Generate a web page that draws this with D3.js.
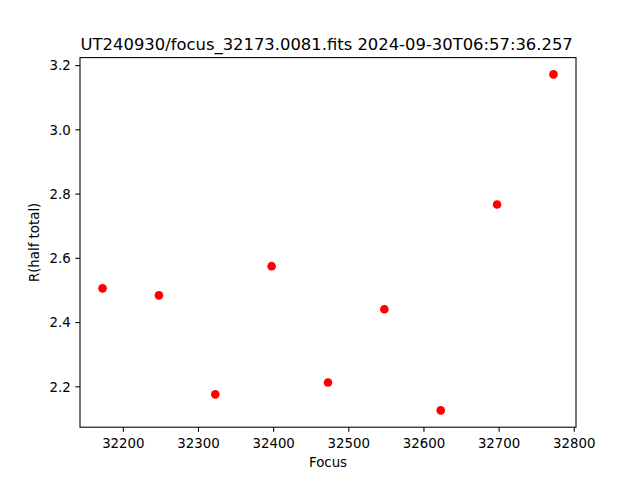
<!DOCTYPE html>
<html>
<head>
<meta charset="utf-8">
<script src="https://cdn.jsdelivr.net/npm/d3@7"></script>
<style>
html,body{margin:0;padding:0;background:#fff;}
svg{display:block;font-family:"DejaVu Sans",sans-serif;}
</style>
</head>
<body>
<svg id="chart" width="640" height="480"></svg>
<script>
const titleText = "UT240930/focus_32173.0081.fits 2024-09-30T06:57:36.257";
const xLabel = "Focus";
const yLabel = "R(half total)";
const focusValues = [32173, 32248, 32323, 32398, 32473, 32548, 32623, 32698, 32773];
const rValues = [2.505, 2.483, 2.175, 2.574, 2.212, 2.440, 2.125, 2.766, 3.171];
const xTicks = [32200, 32300, 32400, 32500, 32600, 32700, 32800];
const yTicks = [2.2, 2.4, 2.6, 2.8, 3.0, 3.2];

const svg = d3.select("#chart");
const L = 80, R = 576, T = 57.6, B = 427.2;

function padded(vals) {
  const [a, b] = d3.extent(vals);
  const p = (b - a) * 0.05;
  return [a - p, b + p];
}
const x = d3.scaleLinear().domain(padded(focusValues)).range([L, R]);
const y = d3.scaleLinear().domain(padded(rValues)).range([B, T]);

const tickLen = 4.67, tickPad = 4.67;

// points
svg.append("g").selectAll("circle")
  .data(focusValues.map((f, i) => ({f, r: rValues[i]})))
  .join("circle")
  .attr("cx", d => x(d.f))
  .attr("cy", d => y(d.r))
  .attr("r", 4.3)
  .attr("fill", "#ff0000");

// x axis
const xAxis = d3.axisBottom(x).tickValues(xTicks).tickFormat(d3.format("d"))
  .tickSizeInner(tickLen).tickSizeOuter(0).tickPadding(tickPad);
const gx = svg.append("g").attr("transform", `translate(0,${B})`).call(xAxis);
gx.select(".domain").remove();
gx.selectAll(".tick line").attr("stroke", "#000").attr("stroke-width", 1.07);
gx.selectAll(".tick text").attr("font-size", 13.33).attr("fill", "#000")
  .attr("font-family", "DejaVu Sans").attr("y", 0).attr("dy", 0)
  .attr("transform", "translate(0,21)");

// y axis
const yAxis = d3.axisLeft(y).tickValues(yTicks).tickFormat(d3.format(".1f"))
  .tickSizeInner(tickLen).tickSizeOuter(0).tickPadding(tickPad);
const gy = svg.append("g").attr("transform", `translate(${L},0)`).call(yAxis);
gy.select(".domain").remove();
gy.selectAll(".tick line").attr("stroke", "#000").attr("stroke-width", 1.07);
gy.selectAll(".tick text").attr("font-size", 13.33).attr("fill", "#000")
  .attr("font-family", "DejaVu Sans").attr("dy", "0.36em");

// frame
svg.append("rect").attr("x", L).attr("y", T).attr("width", R - L).attr("height", B - T)
  .attr("fill", "none").attr("stroke", "#000").attr("stroke-width", 1.07);

// labels
svg.append("text").attr("x", 326.7).attr("y", 50)
  .attr("text-anchor", "middle").attr("font-size", 16.4).attr("fill", "#000")
  .text(titleText);
svg.append("text").attr("x", (L + R) / 2).attr("y", 466.5)
  .attr("text-anchor", "middle").attr("font-size", 13.33).attr("fill", "#000")
  .text(xLabel);
svg.append("text").attr("transform", `translate(38.5,${(T + B) / 2}) rotate(-90)`)
  .attr("text-anchor", "middle").attr("font-size", 13.33).attr("fill", "#000")
  .text(yLabel);
</script>
</body>
</html>
